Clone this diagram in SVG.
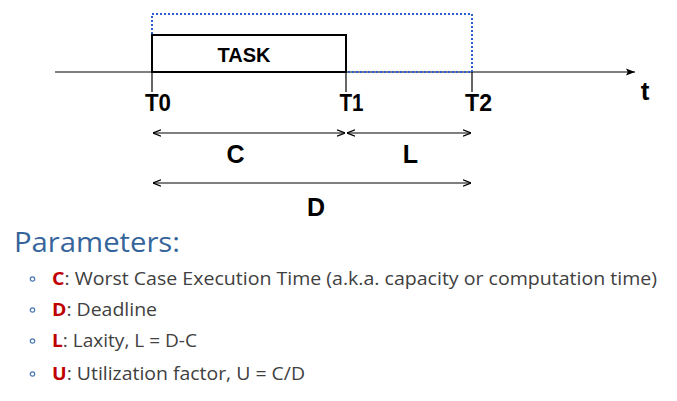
<svg xmlns="http://www.w3.org/2000/svg" width="677" height="401" viewBox="0 0 677 401">
<style>
.lbl{font-family:"Liberation Sans",Arial,sans-serif;font-weight:bold;fill:#000}
.body{font-family:"Open Sans","Liberation Sans",sans-serif;font-size:18.5px;fill:#404040}
.key{font-weight:bold;fill:#c00000}
.dim{stroke:#000;stroke-width:1.2;fill:none;marker-start:url(#ah);marker-end:url(#ah)}
.bul{fill:none;stroke:#4a78b5;stroke-width:1.2}
</style>
<defs>
<marker id="ah" viewBox="0 0 10 10" refX="10" refY="5" markerWidth="8" markerHeight="8" markerUnits="userSpaceOnUse" orient="auto-start-reverse">
<path d="M0,1 L10,5 L0,9" fill="none" stroke="#000" stroke-width="1.5"/>
</marker>
<marker id="ax" viewBox="0 0 10 10" refX="10" refY="5" markerWidth="9" markerHeight="9" markerUnits="userSpaceOnUse" orient="auto">
<path d="M0,1 L10,5 L0,9 L2,5 Z" fill="#000"/>
</marker>
</defs>
<g id="connectors">
<line x1="55" y1="72" x2="635" y2="72" stroke="#555" stroke-width="1.5" marker-end="url(#ax)"/>
<line x1="152" y1="72" x2="152" y2="92" stroke="#000" stroke-width="1.2"/>
<line x1="346" y1="72" x2="346" y2="92" stroke="#000" stroke-width="1.2"/>
<line x1="472" y1="72" x2="472" y2="92" stroke="#000" stroke-width="1.2"/>
<line class="dim" x1="153" y1="133" x2="345" y2="133"/>
<line class="dim" x1="347" y1="133" x2="471" y2="133"/>
<line class="dim" x1="153" y1="183" x2="471" y2="183"/>
</g>
<g id="window">
<rect x="152" y="14" width="320" height="58" fill="none" stroke="#2a5fd0" stroke-width="2" stroke-dasharray="2,2"/>
</g>
<g id="task">
<rect x="152" y="35" width="194" height="37" fill="#fff" stroke="#000" stroke-width="2"/>
<text class="lbl" x="244" y="62" font-size="20" text-anchor="middle">TASK</text>
</g>
<g id="labels">
<text class="lbl" x="158" y="111" font-size="23" text-anchor="middle" textLength="26" lengthAdjust="spacingAndGlyphs">T0</text>
<text class="lbl" x="351.5" y="111" font-size="23" text-anchor="middle" textLength="24" lengthAdjust="spacingAndGlyphs">T1</text>
<text class="lbl" x="478.5" y="111" font-size="23" text-anchor="middle" textLength="27" lengthAdjust="spacingAndGlyphs">T2</text>
<text class="lbl" x="645" y="100" font-size="26" text-anchor="middle">t</text>
<text class="lbl" x="235.5" y="163" font-size="25" text-anchor="middle">C</text>
<text class="lbl" x="410.5" y="163" font-size="25" text-anchor="middle">L</text>
<text class="lbl" x="316" y="216" font-size="25" text-anchor="middle">D</text>
</g>
<g id="parameters">
<text x="14" y="252" font-family="'Open Sans','Liberation Sans',sans-serif" font-size="28" fill="#35649b" textLength="166" lengthAdjust="spacingAndGlyphs">Parameters:</text>
<circle class="bul" cx="32.5" cy="279" r="2.2"/>
<circle class="bul" cx="32.5" cy="310" r="2.2"/>
<circle class="bul" cx="32.5" cy="341" r="2.2"/>
<circle class="bul" cx="32.5" cy="374" r="2.2"/>
<text class="body" x="52" y="285" textLength="605" lengthAdjust="spacingAndGlyphs"><tspan class="key">C</tspan>: Worst Case Execution Time (a.k.a. capacity or computation time)</text>
<text class="body" x="52" y="316" textLength="105" lengthAdjust="spacingAndGlyphs"><tspan class="key">D</tspan>: Deadline</text>
<text class="body" x="52" y="347" textLength="145" lengthAdjust="spacingAndGlyphs"><tspan class="key">L</tspan>: Laxity, L = D-C</text>
<text class="body" x="52" y="380" textLength="253" lengthAdjust="spacingAndGlyphs"><tspan class="key">U</tspan>: Utilization factor, U = C/D</text>
</g>
</svg>
